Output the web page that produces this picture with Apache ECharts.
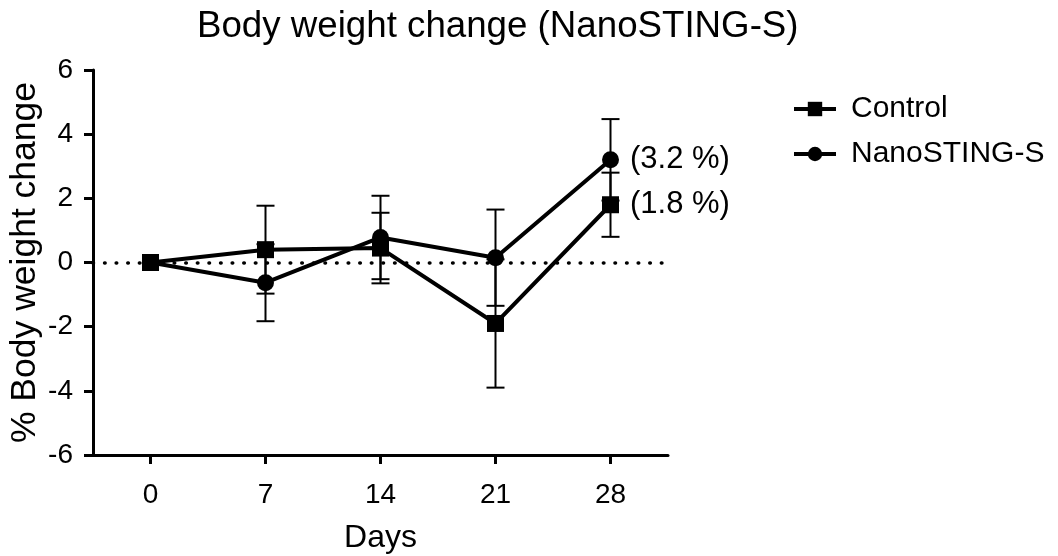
<!DOCTYPE html>
<html>
<head>
<meta charset="utf-8">
<script src="https://cdn.jsdelivr.net/npm/echarts@6/dist/echarts.min.js"></script>
<style>
  html, body { margin: 0; padding: 0; background: #fff; }
  #chart { width: 1058px; height: 556px; }
</style>
</head>
<body>
<div id="chart"></div>
<script>
// Body weight change over time, mean ± SD per group
const days = [0, 7, 14, 21, 28];
const controlMean = [0, 0.4, 0.45, -1.9, 1.8];
const controlSD = [0, 1.37, 1.1, 2.0, 1.0];
const stingMean = [0, -0.63, 0.78, 0.15, 3.2];
const stingSD = [0, 1.2, 1.3, 1.5, 1.27];
const yTicks = [-6, -4, -2, 0, 2, 4, 6];
const xTicks = [0, 7, 14, 21, 28];

const FONT = "'Liberation Sans', Arial, Helvetica, sans-serif";
const INK = '#000';

function errorData(mean, sd) {
  return days.map((d, i) => [d, mean[i] - sd[i], mean[i] + sd[i]]);
}

function lineData(mean) {
  const last = mean.length - 1;
  return days.map((d, i) => {
    const item = { value: [d, mean[i]] };
    if (i === last) {
      item.label = {
        show: true,
        position: 'right',
        distance: 11,
        formatter: '(' + mean[i].toFixed(1) + ' %)',
        color: INK,
        fontFamily: FONT,
        fontSize: 31
      };
    }
    return item;
  });
}

// Whisker with horizontal caps at both ends
function renderErrorBar(params, api) {
  const x = api.value(0);
  const lo = api.value(1);
  const hi = api.value(2);
  if (hi - lo <= 0) return null;
  const pLo = api.coord([x, lo]);
  const pHi = api.coord([x, hi]);
  const half = 9;
  const style = { stroke: INK, lineWidth: 2, fill: null };
  return {
    type: 'group',
    children: [
      { type: 'line', shape: { x1: pLo[0], y1: pLo[1], x2: pHi[0], y2: pHi[1] }, style },
      { type: 'line', shape: { x1: pLo[0] - half, y1: pLo[1], x2: pLo[0] + half, y2: pLo[1] }, style },
      { type: 'line', shape: { x1: pHi[0] - half, y1: pHi[1], x2: pHi[0] + half, y2: pHi[1] }, style }
    ]
  };
}

const chart = echarts.init(document.getElementById('chart'), null, { renderer: 'canvas' });

chart.setOption({
  animation: false,
  backgroundColor: '#fff',
  title: {
    text: 'Body weight change (NanoSTING-S)',
    left: 192,
    top: 3,
    textStyle: { color: INK, fontFamily: FONT, fontSize: 36.7, fontWeight: 'normal' }
  },
  legend: {
    data: ['Control', 'NanoSTING-S'],
    orient: 'vertical',
    left: 787,
    top: 89,
    itemWidth: 42,
    itemHeight: 18,
    itemGap: 15,
    lineStyle: { width: 4 },
    textStyle: { color: INK, fontFamily: FONT, fontSize: 30, padding: [0, 0, 0, 10] }
  },
  grid: { left: 93, right: 390, top: 70, bottom: 101, containLabel: false, outerBoundsMode: 'none' },
  xAxis: {
    type: 'value',
    min: -3.5,
    max: 31.5,
    name: 'Days',
    nameLocation: 'middle',
    nameGap: 67,
    nameMoveOverlap: false,
    nameTextStyle: { color: INK, fontFamily: FONT, fontSize: 32 },
    splitLine: { show: false },
    axisLine: { onZero: false, lineStyle: { color: INK, width: 3 } },
    axisTick: { show: true, length: 9, customValues: xTicks, lineStyle: { color: INK, width: 3 } },
    axisLabel: { customValues: xTicks, color: INK, fontFamily: FONT, fontSize: 28, margin: 26 }
  },
  yAxis: {
    type: 'value',
    min: -6,
    max: 6,
    interval: 2,
    name: '% Body weight change',
    nameLocation: 'middle',
    nameGap: 50,
    nameMoveOverlap: false,
    nameTextStyle: { color: INK, fontFamily: FONT, fontSize: 35.5 },
    splitLine: { show: false },
    axisLine: { show: true, onZero: false, lineStyle: { color: INK, width: 3 } },
    axisTick: { show: true, length: 9, customValues: yTicks, lineStyle: { color: INK, width: 3 } },
    axisLabel: { customValues: yTicks, color: INK, fontFamily: FONT, fontSize: 28, margin: 20 }
  },
  series: [
    {
      name: 'Control SD',
      type: 'custom',
      renderItem: renderErrorBar,
      data: errorData(controlMean, controlSD),
      encode: { x: 0, y: [1, 2] },
      z: 1,
      silent: true
    },
    {
      name: 'NanoSTING-S SD',
      type: 'custom',
      renderItem: renderErrorBar,
      data: errorData(stingMean, stingSD),
      encode: { x: 0, y: [1, 2] },
      z: 1,
      silent: true
    },
    {
      name: 'Control',
      type: 'line',
      data: lineData(controlMean),
      symbol: 'rect',
      symbolSize: 17,
      showAllSymbol: true,
      lineStyle: { color: INK, width: 4 },
      itemStyle: { color: INK },
      z: 3,
      markLine: {
        silent: true,
        symbol: 'none',
        label: { show: false },
        lineStyle: { color: INK, width: 3.6, type: [0.5, 11.1], cap: 'round' },
        data: [{ yAxis: 0 }],
        z: 0
      }
    },
    {
      name: 'NanoSTING-S',
      type: 'line',
      data: lineData(stingMean),
      symbol: 'circle',
      symbolSize: 17,
      showAllSymbol: true,
      lineStyle: { color: INK, width: 4 },
      itemStyle: { color: INK },
      z: 3
    }
  ]
});
</script>
</body>
</html>
